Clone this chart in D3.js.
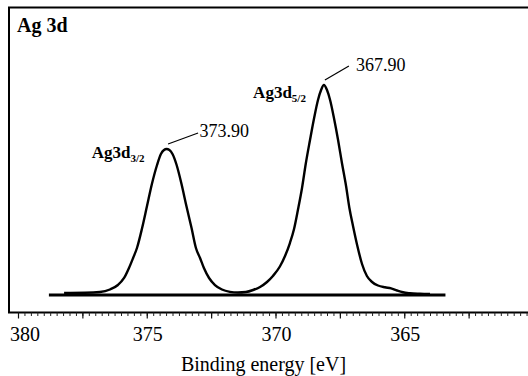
<!DOCTYPE html>
<html>
<head>
<meta charset="utf-8">
<script src="https://cdn.jsdelivr.net/npm/d3@7/dist/d3.min.js"></script>
<style>
  html, body { margin: 0; padding: 0; background: #fff; }
  svg { display: block; }
  text { font-family: "Liberation Serif", "Times New Roman", serif; fill: #000; }
</style>
</head>
<body>
<svg id="chart" width="528" height="376" font-family="Liberation Serif, serif"></svg>
<script>
// ---- data ----
const energy = [378.21, 377.40, 376.82, 376.43, 376.12, 375.88, 375.69, 375.53, 375.38, 375.18, 374.99, 374.80,
                374.60, 374.45, 374.33, 374.23, 374.12, 374.00, 373.84, 373.65, 373.46, 373.26, 373.09, 372.93,
                372.78, 372.58, 372.35, 372.08, 371.77, 371.46, 371.15, 370.87, 370.60, 370.33, 370.10, 369.83,
                369.63, 369.44, 369.28, 369.13, 368.97, 368.82, 368.66, 368.50, 368.35, 368.23, 368.12, 368.00,
                367.88, 367.73, 367.57, 367.42, 367.26, 367.13, 366.99, 366.83, 366.64, 366.45, 366.25, 366.02,
                365.75, 365.51, 365.28, 365.05, 364.78, 364.39, 364.00];
const intensity = [0.95, 1.05, 1.43, 2.62, 4.76, 8.10, 12.86, 17.62, 22.38, 31.90, 42.38, 52.86,
                   61.90, 67.14, 69.05, 69.52, 69.05, 67.14, 61.90, 52.86, 42.38, 31.90, 22.38, 17.62,
                   12.86, 8.10, 4.76, 2.62, 1.52, 1.19, 1.43, 2.38, 3.81, 6.19, 9.05, 13.57,
                   18.57, 24.76, 31.43, 40.48, 50.95, 62.86, 73.81, 84.29, 92.86, 97.62, 100.0, 97.62,
                   92.86, 84.29, 73.81, 62.86, 51.90, 41.43, 32.86, 23.81, 14.76, 9.05, 6.19, 4.52,
                   3.67, 3.19, 2.14, 1.29, 0.86, 0.62, 0.48];
const baselineRange = [378.8, 363.4];
const peakEnergy = [374.23, 368.12];
const peakIntensity = [69.52, 100.0];
const peakValueLabels = ["373.90", "367.90"];
const peakNames = ["Ag3d", "Ag3d"];
const peakSubs = ["3/2", "5/2"];
const majorTickLabels = [380, 375, 370, 365];
const chartTitle = "Ag 3d";
const xTitle = "Binding energy [eV]";

// ---- layout ----
const W = 528, H = 376;
const svg = d3.select("#chart");
const x = d3.scaleLinear().domain([380, 360]).range([18, 533]);
const y = d3.scaleLinear().domain([0, 100]).range([295, 85]);
const frame = { left: 9, top: 7.5, bottom: 312.5 };

// annotation offsets relative to each peak (pixels)
const annot = [
  { l1: [1.5, -5], l2: [31.5, -16], val: [33, -12], name: [-22, 8.5] },
  { l1: [1, -5],   l2: [25, -19],   val: [32, -14], name: [-18, 12.5] }
];

// frame (open on the right, cropped)
svg.append("path")
  .attr("d", `M${W} ${frame.top} H${frame.left} V${frame.bottom} H${W}`)
  .attr("fill", "none").attr("stroke", "#000").attr("stroke-width", 2);

// ticks
const minorTicks = d3.range(0, 81).map(i => 380 - i * 0.25);
const majorTicks = d3.range(0, 9).map(i => 380 - i * 2.5);
svg.append("g").attr("transform", `translate(0,${frame.bottom})`)
  .call(d3.axisBottom(x).tickValues(minorTicks).tickSize(3.5).tickFormat(""))
  .call(g => g.select(".domain").remove())
  .call(g => g.selectAll(".tick line").attr("stroke", "#222").attr("stroke-width", 1));
svg.append("g").attr("transform", `translate(0,${frame.bottom})`)
  .call(d3.axisBottom(x).tickValues(majorTicks).tickSize(6).tickFormat(""))
  .call(g => g.select(".domain").remove())
  .call(g => g.selectAll(".tick line").attr("stroke", "#111").attr("stroke-width", 1.2));

// tick labels
svg.append("g").selectAll("text").data(majorTickLabels).join("text")
  .attr("x", d => x(d) + (d === 380 ? 7 : 1))
  .attr("y", 341)
  .attr("text-anchor", "middle")
  .style("font-size", "20px")
  .text(d => d);

// axis title
svg.append("text")
  .attr("x", 263.5).attr("y", 371)
  .attr("text-anchor", "middle")
  .style("font-size", "20px")
  .text(xTitle);

// chart title
svg.append("text")
  .attr("x", 17).attr("y", 32)
  .style("font-size", "20px").style("font-weight", "bold")
  .text(chartTitle);

// baseline
svg.append("line")
  .attr("x1", x(baselineRange[0])).attr("x2", x(baselineRange[1]))
  .attr("y1", y(0)).attr("y2", y(0))
  .attr("stroke", "#000").attr("stroke-width", 2.8);

// spectrum
const pts = energy.map((e, i) => [e, intensity[i]]);
svg.append("path")
  .datum(pts)
  .attr("fill", "none").attr("stroke", "#000").attr("stroke-width", 2.4)
  .attr("stroke-linejoin", "round")
  .attr("d", d3.line().x(d => x(d[0])).y(d => y(d[1])).curve(d3.curveMonotoneX));

// peak annotations
peakEnergy.forEach((pe, i) => {
  const px = x(pe), py = y(peakIntensity[i]);
  const a = annot[i];
  svg.append("line")
    .attr("x1", px + a.l1[0]).attr("y1", py + a.l1[1])
    .attr("x2", px + a.l2[0]).attr("y2", py + a.l2[1])
    .attr("stroke", "#000").attr("stroke-width", 1.2);
  svg.append("text")
    .attr("x", px + a.val[0]).attr("y", py + a.val[1])
    .style("font-size", "18px")
    .text(peakValueLabels[i]);
  const t = svg.append("text")
    .attr("x", px + a.name[0]).attr("y", py + a.name[1])
    .attr("text-anchor", "end")
    .style("font-size", "17px").style("font-weight", "bold");
  t.append("tspan").text(peakNames[i]);
  t.append("tspan").attr("dy", 4).style("font-size", "11px").text(peakSubs[i]);
});
</script>
</body>
</html>
